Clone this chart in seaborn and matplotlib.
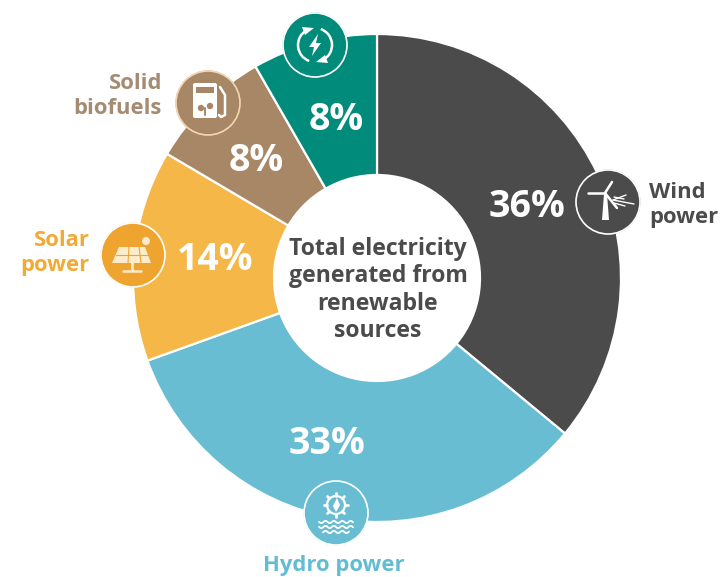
import numpy as np
import matplotlib
matplotlib.use('Agg')
import matplotlib.pyplot as plt
from matplotlib.patches import Circle, Polygon, Rectangle, FancyBboxPatch, Arc
import seaborn as sns

# values (slice sizes as drawn, printed labels are rounded)
sources = ['Wind power', 'Hydro power', 'Solar power', 'Solid biofuels', 'Other']
shares = [36, 33.5, 14, 8.2, 8.3]
pct_labels = ['36%', '33%', '14%', '8%', '8%']
colors = ['#4c4b4b', '#68bdd2', '#f5b748', '#a88767', '#008b7b']
center_text = 'Total electricity\ngenerated from\nrenewable\nsources'

sns.set_theme(style='white')
plt.rcParams['font.family'] = ['Open Sans', 'DejaVu Sans']

fig = plt.figure(figsize=(7.24, 5.77), dpi=100)
ax = fig.add_axes([0, 0, 1, 1])

# y is flipped below, so counterclock here shows up clockwise on screen
ax.pie(shares, colors=colors, center=(377, 278), radius=244, startangle=-90,
       counterclock=True, wedgeprops={'width': 141, 'edgecolor': 'white', 'linewidth': 1.6})
ax.set_xlim(0, 724)
ax.set_ylim(577, 0)
ax.axis('off')

# percent labels
pct_pos = [(527, 207), (327, 444), (215, 260), (256, 161), (336, 120)]
for (x, y), s in zip(pct_pos, pct_labels):
    ax.text(x, y, s, color='white', fontsize=27, fontweight='bold', ha='center', va='center')

ax.text(378, 290, center_text, color='#4c4b4b', fontsize=16.6, fontweight='bold',
        ha='center', va='center', linespacing=1.2)

# category labels
ax.text(649, 205, 'Wind\npower', color='#4c4b4b', fontsize=15.8, fontweight='bold',
        ha='left', va='center', linespacing=1.25)
ax.text(334, 566, 'Hydro power', color='#62bcd2', fontsize=15.8, fontweight='bold',
        ha='center', va='center')
ax.text(90, 253, 'Solar\npower', color='#f2aa35', fontsize=15.8, fontweight='bold',
        ha='right', va='center', linespacing=1.25)
ax.text(162, 96, 'Solid\nbiofuels', color='#a58b72', fontsize=15.8, fontweight='bold',
        ha='right', va='center', linespacing=1.25)


def badge(x, y, face, ring='white'):
    ax.add_patch(Circle((x, y), 32.5, facecolor=face, edgecolor='none', zorder=3))
    ax.add_patch(Circle((x, y), 32, facecolor='none', edgecolor=ring, linewidth=1.2, zorder=4))


def ln(xs, ys, lw=1.6, color='white'):
    ax.plot(xs, ys, color=color, lw=lw, solid_capstyle='round', zorder=5)


def poly(pts, color='white'):
    ax.add_patch(Polygon(pts, closed=True, facecolor=color, edgecolor='none', zorder=5))


# wind turbine
wx, wy = 608, 202
badge(wx, wy, '#4c4b4b')
poly([(wx - 6, wy + 18), (wx - 4, wy - 8), (wx - 1, wy - 8), (wx + 1, wy + 18)])
ln([wx - 3, wx - 20], [wy - 9, wy - 9], 1.8)
ln([wx - 3, wx + 4], [wy - 9, wy - 20], 1.8)
ln([wx - 3, wx + 9], [wy - 9, wy + 6], 1.8)
ln([wx + 5, wx + 18], [wy - 2, wy - 7], 1)
ln([wx + 5, wx + 26], [wy - 2, wy + 2], 1)
ln([wx + 6, wx + 16], [wy - 5, wy - 3], 1)
ln([wx + 6, wx + 17], [wy + 1, wy + 4], 1)

# hydro wheel and waves
hx, hy = 336, 513
badge(hx, hy, '#68bdd2')
ax.add_patch(Circle((hx, hy - 8), 9, facecolor='none', edgecolor='white', linewidth=1.6, zorder=5))
for a in np.arange(0, 360, 45):
    r = np.deg2rad(a)
    ln([hx + 9 * np.cos(r), hx + 12 * np.cos(r)], [hy - 8 + 9 * np.sin(r), hy - 8 + 12 * np.sin(r)], 2)
poly([(hx + 1, hy - 15), (hx + 4, hy - 8), (hx, hy - 1), (hx - 3, hy - 7)])
for dy, half in [(9, 17), (14, 17), (19, 13)]:
    xs = np.linspace(hx - half, hx + half, 30)
    ln(xs, hy + dy + 1.2 * np.sin((xs - hx) * 0.75), 1.3)

# solar panel
sx, sy = 133, 255
badge(sx, sy, '#eea42f')
poly([(sx - 14, sy - 8), (sx + 12, sy - 8), (sx + 18, sy + 8), (sx - 21, sy + 8)], '#fdeccb')
ln([sx - 17, sx + 15], [sy, sy], 0.8, '#eea42f')
ln([sx - 4, sx - 5], [sy - 8, sy + 8], 0.8, '#eea42f')
ln([sx + 6, sx + 8], [sy - 8, sy + 8], 0.8, '#eea42f')
ln([sx - 1, sx - 1], [sy + 8, sy + 15], 2, '#fdeccb')
ln([sx - 10, sx + 8], [sy + 16, sy + 16], 1.8, '#fdeccb')
ax.add_patch(Circle((sx + 13, sy - 14), 4, facecolor='#fdeccb', edgecolor='none', zorder=5))

# fuel pump
bx, by = 208, 103
badge(bx, by, '#a88767', '#f3d6b4')
ax.add_patch(FancyBboxPatch((bx - 15, by - 20), 24, 35, boxstyle='round,pad=0,rounding_size=2',
                            facecolor='white', edgecolor='none', zorder=5))
ax.add_patch(Rectangle((bx - 12, by - 16), 18, 6, facecolor='#a88767', edgecolor='none', zorder=6))
ax.add_patch(Circle((bx - 7, by + 5), 3.2, facecolor='#a88767', edgecolor='none', zorder=6))
ax.add_patch(Circle((bx + 2, by + 3), 3.2, facecolor='#a88767', edgecolor='none', zorder=6))
ln([bx - 3, bx - 3], [by + 5, by + 12], 1.4, '#a88767')
ln([bx + 11, bx + 13, bx + 17, bx + 17, bx + 12], [by + 12, by + 14, by + 12, by - 8, by - 16], 1.8)

# recycling arrows round a bolt
rx, ry = 315, 45
badge(rx, ry, '#008b7b')
ax.add_patch(Arc((rx, ry), 34, 34, theta1=-70, theta2=60, color='white', lw=1.8, zorder=5))
ax.add_patch(Arc((rx, ry), 34, 34, theta1=110, theta2=240, color='white', lw=1.8, zorder=5))
poly([(rx + 13, ry + 18), (rx + 1, ry + 17), (rx + 10, ry + 10)])
poly([(rx - 13, ry - 18), (rx - 1, ry - 17), (rx - 10, ry - 10)])
poly([(rx + 3, ry - 11), (rx - 6, ry + 2), (rx - 1, ry + 2), (rx - 3, ry + 11), (rx + 6, ry - 2), (rx + 1, ry - 2)])

plt.savefig('out.png', dpi=100)
